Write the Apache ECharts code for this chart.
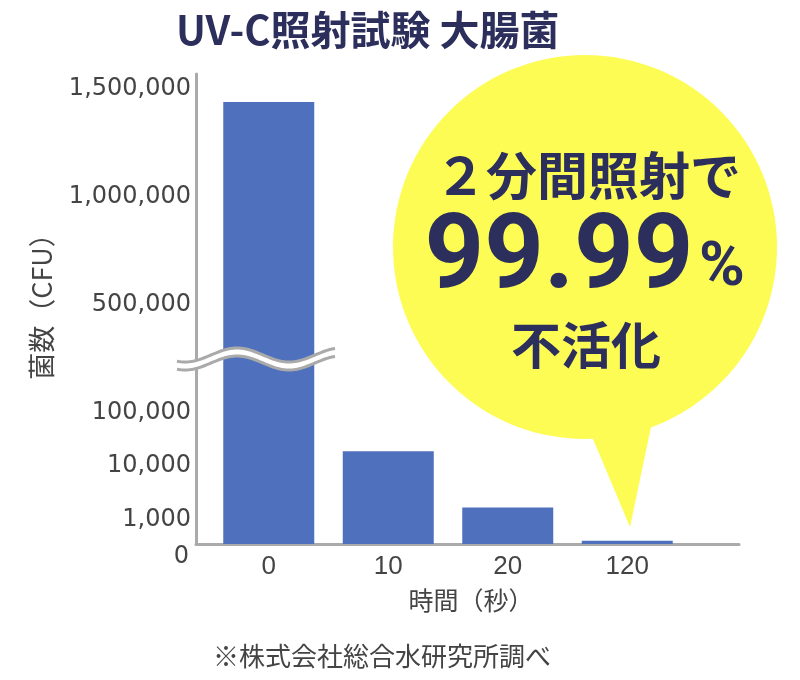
<!DOCTYPE html>
<html lang="ja">
<head>
    <meta charset="UTF-8">
    <title>UV-C照射試験 大腸菌</title>
    <script src="https://cdn.jsdelivr.net/npm/echarts@6/dist/echarts.min.js"></script>
    <style>
        html, body { margin: 0; padding: 0; background: #fff; }
        #main { width: 800px; height: 680px; }
    </style>
</head>
<body>
<div id="main"></div>
<script>
    // データ
    var times = ['0', '10', '20', '120'];
    var counts = [1440000, 19000, 1700, 140];
    var yTicks = [0, 1000, 10000, 100000, 500000, 1000000, 1500000];
    var yTickLabels = ['0', '1,000', '10,000', '100,000', '500,000', '1,000,000', '1,500,000'];

    // 途中省略のある縦軸 -> 表示用の値に変換
    function scaleY(v) {
        if (v <= 1000) return v / 1000 * 24;
        if (v <= 10000) return 24 + Math.log10(v / 1000) * 54;
        if (v <= 100000) return 78 + Math.log10(v / 10000) * 53;
        if (v <= 500000) return 131 + (v - 100000) / 400000 * 108;
        return 239 + (v - 500000) / 500000 * 108;
    }

    var navy = '#2c2e5b';
    var gray = '#444';
    var axisGray = '#aaaaaa';
    var tickPos = yTicks.map(scaleY);

    var chart = echarts.init(document.getElementById('main'));
    var option = {
        animation: false,
        title: {
            text: 'UV-C照射試験 大腸菌',
            left: 171, top: 5,
            textStyle: {color: navy, fontSize: 40, fontWeight: 'bold', fontFamily: 'Noto Sans CJK JP'}
        },
        grid: [
            {left: 209, right: 113, top: 74, bottom: 136},
            {left: 196, right: 61, top: 74, bottom: 136}
        ],
        xAxis: [{
            gridIndex: 0,
            type: 'category',
            data: times,
            axisLine: {show: false},
            axisTick: {show: false},
            axisLabel: {color: gray, fontSize: 26, fontFamily: 'Liberation Sans', margin: 10}
        }, {
            gridIndex: 1,
            type: 'value', min: 0, max: 1,
            axisLine: {show: true, lineStyle: {color: axisGray, width: 3}},
            axisTick: {show: false},
            axisLabel: {show: false},
            splitLine: {show: false}
        }],
        yAxis: [{
            gridIndex: 0,
            type: 'value', min: 0, max: 470,
            show: false
        }, {
            gridIndex: 1,
            type: 'value', min: 0, max: 470,
            axisLine: {show: true, lineStyle: {color: axisGray, width: 3}},
            axisTick: {show: false},
            splitLine: {show: false},
            axisLabel: {
                customValues: tickPos,
                color: gray, fontSize: 24, fontFamily: 'DejaVu Sans', margin: 5,
                formatter: function (val) {
                    for (var i = 0; i < tickPos.length; i++) {
                        if (Math.abs(tickPos[i] - val) < 0.01) {
                            return i === 0 ? '{z|0}' : yTickLabels[i];
                        }
                    }
                    return '';
                },
                rich: {
                    z: {color: gray, fontSize: 24, fontFamily: 'DejaVu Sans', padding: [26, 2, 0, 0]}
                }
            }
        }],
        series: [{
            type: 'bar',
            xAxisIndex: 0, yAxisIndex: 0,
            data: counts.map(scaleY),
            barWidth: 91,
            itemStyle: {color: '#4f71bd'},
            z: 2
        }]
    };
    chart.setOption(option);

    // 軸の省略記号（波線）
    var origin = chart.convertToPixel({xAxisIndex: 1, yAxisIndex: 1}, [0, (tickPos[3] + tickPos[4]) / 2]);
    var ax = origin[0], yc = origin[1];
    var topPts = [], botPts = [];
    for (var dx = 0; dx <= 158; dx += 2) {
        var w = -7 * Math.cos(2 * Math.PI * (dx - 60) / 104);
        topPts.push([ax - 19 + dx, yc - 4 + w]);
        botPts.push([ax - 19 + dx, yc + 4 + w]);
    }
    var band = topPts.concat(botPts.slice().reverse());

    var bx = 585, by = 247, br = 192;
    chart.setOption({
        graphic: [
            {type: 'polygon', shape: {points: band}, style: {fill: '#fff'}, z: 10},
            {type: 'polyline', shape: {points: topPts}, style: {stroke: axisGray, lineWidth: 3, fill: null}, z: 11},
            {type: 'polyline', shape: {points: botPts}, style: {stroke: axisGray, lineWidth: 3, fill: null}, z: 11},
            // 吹き出し
            {type: 'circle', shape: {cx: bx, cy: by, r: br}, style: {fill: '#fdfc55'}, z: 20},
            {type: 'polygon', shape: {points: [[585, 420], [655, 408], [630, 527]]}, style: {fill: '#fdfc55'}, z: 20},
            {type: 'text', z: 21, style: {text: '２分間照射で', x: 588, y: 176, fill: navy,
                font: 'bold 51px "Noto Sans CJK JP"', align: 'center', verticalAlign: 'middle',
                textAlign: 'center', textVerticalAlign: 'middle'}},
            {type: 'text', z: 21, style: {text: '99.99', x: 559, y: 261, fill: navy,
                font: 'bold 104px Roboto', align: 'center', verticalAlign: 'middle',
                textAlign: 'center', textVerticalAlign: 'middle'}},
            {type: 'text', z: 21, style: {text: '%', x: 722, y: 269, fill: navy,
                font: 'bold 62px Roboto', align: 'center', verticalAlign: 'middle',
                textAlign: 'center', textVerticalAlign: 'middle'}},
            {type: 'text', z: 21, style: {text: '不活化', x: 586, y: 345, fill: navy,
                font: 'bold 50px "Noto Sans CJK JP"', align: 'center', verticalAlign: 'middle',
                textAlign: 'center', textVerticalAlign: 'middle'}},
            // 軸名・注記
            {type: 'text', z: 5, x: 42, y: 300, rotation: Math.PI / 2,
                style: {text: '菌数（CFU）', x: 0, y: 0, fill: gray,
                font: '27px "Noto Sans CJK JP"', align: 'center', verticalAlign: 'middle',
                textAlign: 'center', textVerticalAlign: 'middle'}},
            {type: 'text', z: 5, style: {text: '時間（秒）', x: 471, y: 600, fill: gray,
                font: '25px "Noto Sans CJK JP"', align: 'center', verticalAlign: 'middle',
                textAlign: 'center', textVerticalAlign: 'middle'}},
            {type: 'text', z: 5, style: {text: '※株式会社総合水研究所調べ', x: 382, y: 656, fill: gray,
                font: '26px "Noto Sans CJK JP"', align: 'center', verticalAlign: 'middle',
                textAlign: 'center', textVerticalAlign: 'middle'}}
        ]
    });
</script>
</body>
</html>
